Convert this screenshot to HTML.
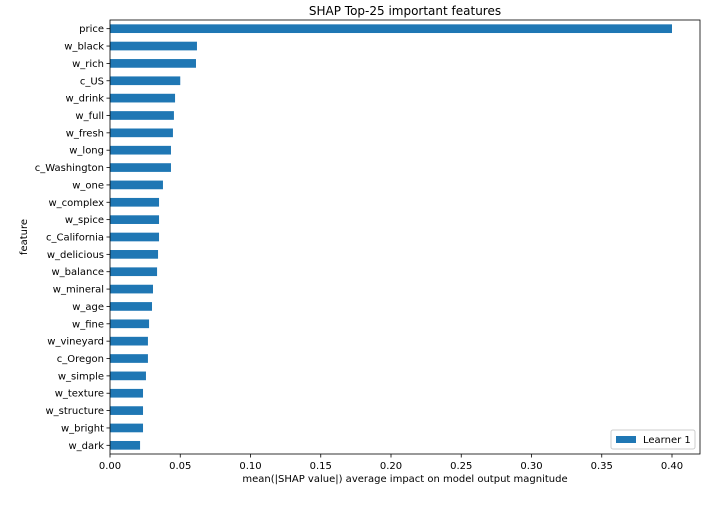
<!DOCTYPE html>
<html><head><meta charset="utf-8"><style>
body{margin:0;background:#fff;}
svg text{font-family:"DejaVu Sans","Liberation Sans",sans-serif;fill:#000;}
</style></head><body>
<svg id="chart" width="720" height="504" xmlns="http://www.w3.org/2000/svg">
<rect width="720" height="504" fill="#fff"/>
<text x="405" y="15" font-size="12" text-anchor="middle">SHAP Top-25 important features</text>
<g id="bars"></g>
<rect x="110" y="20" width="590" height="434" fill="none" stroke="#000" stroke-width="0.8"/>
<g id="xticks"></g>
<g id="yticks"></g>
<text x="405" y="482" font-size="10" text-anchor="middle">mean(|SHAP value|) average impact on model output magnitude</text>
<text x="27" y="237" font-size="10" text-anchor="middle" transform="rotate(-90 27 237)">feature</text>
<g>
<rect x="611" y="430" width="84" height="19" rx="2" fill="#fff" stroke="#ccc"/>
<rect x="616" y="436" width="20" height="7" fill="#1f77b4"/>
<text x="643" y="443" font-size="10">Learner 1</text>
</g>
</svg>
<script>
const categories=["price","w_black","w_rich","c_US","w_drink","w_full","w_fresh","w_long","c_Washington","w_one","w_complex","w_spice","c_California","w_delicious","w_balance","w_mineral","w_age","w_fine","w_vineyard","c_Oregon","w_simple","w_texture","w_structure","w_bright","w_dark"];
const values=[0.400,0.0619,0.0612,0.050,0.0463,0.0455,0.0448,0.0434,0.0434,0.0377,0.0349,0.0349,0.0349,0.0342,0.0335,0.0306,0.0299,0.0278,0.027,0.027,0.0256,0.0235,0.0235,0.0235,0.0214];
const xTicks=[0,0.05,0.10,0.15,0.20,0.25,0.30,0.35,0.40];
const xTickLabels=["0.00","0.05","0.10","0.15","0.20","0.25","0.30","0.35","0.40"];
const NS="http://www.w3.org/2000/svg";
const x0=110,xPerUnit=(672-110)/0.40;
function xs(v){return x0+v*xPerUnit;}
const plotTop=20,plotBottom=454,n=categories.length;
const step=(plotBottom-plotTop)/n;
function yc(i){return plotTop+step*(i+0.5);}
const bh=step*0.5;
const bars=document.getElementById('bars'),yt=document.getElementById('yticks'),xt=document.getElementById('xticks');
categories.forEach((c,i)=>{
  const r=document.createElementNS(NS,'rect');
  r.setAttribute('x',xs(0));r.setAttribute('y',yc(i)-bh/2);
  r.setAttribute('width',xs(values[i])-xs(0));r.setAttribute('height',bh);
  r.setAttribute('fill','#1f77b4');
  
  
  bars.appendChild(r);
  const l=document.createElementNS(NS,'line');
  l.setAttribute('x1',x0-3.5);l.setAttribute('x2',x0);l.setAttribute('y1',yc(i));l.setAttribute('y2',yc(i));l.setAttribute('stroke','#000');l.setAttribute('stroke-width','0.8');
  
  
  yt.appendChild(l);
  const t=document.createElementNS(NS,'text');
  t.setAttribute('x',x0-6);t.setAttribute('y',yc(i)+3.5);t.setAttribute('font-size','10');t.setAttribute('text-anchor','end');
  t.textContent=c;
  
  
  yt.appendChild(t);
});
xTicks.forEach((v,i)=>{
  const l=document.createElementNS(NS,'line');
  l.setAttribute('x1',xs(v));l.setAttribute('x2',xs(v));l.setAttribute('y1',plotBottom);l.setAttribute('y2',plotBottom+3.5);l.setAttribute('stroke','#000');l.setAttribute('stroke-width','0.8');
  
  
  xt.appendChild(l);
  const t=document.createElementNS(NS,'text');
  t.setAttribute('x',xs(v));t.setAttribute('y',plotBottom+15);t.setAttribute('font-size','10');t.setAttribute('text-anchor','middle');
  t.textContent=xTickLabels[i];
  
  
  xt.appendChild(t);
});
</script>
</body></html>
